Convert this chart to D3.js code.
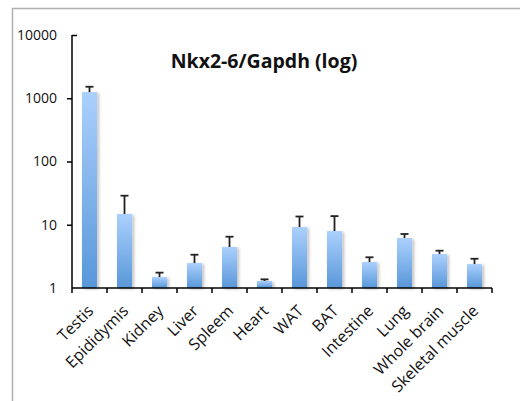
<!DOCTYPE html>
<html>
<head>
<meta charset="utf-8">
<script src="https://cdn.jsdelivr.net/npm/d3@7"></script>
<style>
  body { margin: 0; background: #fff; }
  text { font-family: "Open Sans", sans-serif; fill: #111; }
</style>
</head>
<body>
<div id="chart"></div>
<script>
// data
const tissues = ["Testis", "Epididymis", "Kidney", "Liver", "Spleem", "Heart",
  "WAT", "BAT", "Intestine", "Lung", "Whole brain", "Skeletal muscle"];
const ratio = [1250, 14.8, 1.49, 2.48, 4.45, 1.29, 9.2, 7.95, 2.58, 6.17, 3.45, 2.39];
const errUp = [1520, 28.8, 1.75, 3.36, 6.47, 1.37, 13.5, 13.7, 3.06, 7.14, 3.89, 2.9];
const yTicks = [1, 10, 100, 1000, 10000];

const svgWidth = 520;
const svgHeight = 401;

const svg = d3.select("#chart")
  .append("svg")
  .attr("width", svgWidth)
  .attr("height", svgHeight);

// gradient + soft shadow for the bars
const defs = svg.append("defs");
const grad = defs.append("linearGradient")
  .attr("id", "barFill")
  .attr("x1", 0).attr("y1", 0).attr("x2", 0).attr("y2", 1);
grad.append("stop").attr("offset", "0%").attr("stop-color", "#abd0fd");
grad.append("stop").attr("offset", "100%").attr("stop-color", "#5897d9");

const shadow = defs.append("filter")
  .attr("id", "shadow")
  .attr("x", "-30%").attr("y", "-10%")
  .attr("width", "170%").attr("height", "120%");
shadow.append("feDropShadow")
  .attr("dx", 2).attr("dy", 1)
  .attr("stdDeviation", 1.5)
  .attr("flood-color", "#000")
  .attr("flood-opacity", 0.25);

// outer frame (cut off at right and bottom)
svg.append("rect")
  .attr("x", 12.5).attr("y", 8.5)
  .attr("width", 700).attr("height", 700)
  .attr("fill", "none")
  .attr("stroke", "#b0b0b0")
  .attr("stroke-width", 1.5);

const x = d3.scaleBand()
  .domain(tissues)
  .range([72, 492])
  .padding(0);

const y = d3.scaleLog()
  .domain([1, 10000])
  .range([288, 35]);

const barW = x.bandwidth() * 0.43;

// bars
svg.append("g")
  .selectAll("rect")
  .data(tissues)
  .join("rect")
  .attr("x", d => x(d) + (x.bandwidth() - barW) / 2)
  .attr("y", (d, i) => y(ratio[i]))
  .attr("width", barW)
  .attr("height", (d, i) => y(1) - y(ratio[i]))
  .attr("fill", "url(#barFill)")
  .attr("filter", "url(#shadow)");

// upper error bars
const errG = svg.append("g")
  .attr("stroke", "#222")
  .attr("stroke-width", 1.8);

errG.selectAll("line.stem")
  .data(tissues)
  .join("line")
  .attr("class", "stem")
  .attr("x1", d => x(d) + x.bandwidth() / 2)
  .attr("x2", d => x(d) + x.bandwidth() / 2)
  .attr("y1", (d, i) => y(ratio[i]))
  .attr("y2", (d, i) => y(errUp[i]));

errG.selectAll("line.cap")
  .data(tissues)
  .join("line")
  .attr("class", "cap")
  .attr("x1", d => x(d) + x.bandwidth() / 2 - 4)
  .attr("x2", d => x(d) + x.bandwidth() / 2 + 4)
  .attr("y1", (d, i) => y(errUp[i]))
  .attr("y2", (d, i) => y(errUp[i]));

// y axis
const yAxis = svg.append("g")
  .attr("transform", "translate(72,0)")
  .call(d3.axisLeft(y)
    .tickValues(yTicks)
    .tickFormat(d3.format("d"))
    .tickSize(5)
    .tickPadding(10));

yAxis.select(".domain").attr("stroke", "#000").attr("stroke-width", 1.5)
  .attr("d", "M0,288V35");
yAxis.selectAll(".tick line").attr("stroke", "#000").attr("stroke-width", 1.5);
yAxis.selectAll(".tick text").style("font-size", "14px");
// top tick points inward, bottom one is hidden by the x axis
yAxis.selectAll(".tick").filter(d => d === 10000).select("line").attr("x2", 5);
yAxis.selectAll(".tick").filter(d => d === 1).select("line").remove();

// x axis: ticks on band edges
const xAxis = svg.append("g");
xAxis.append("line")
  .attr("x1", x.range()[0]).attr("x2", x.range()[1])
  .attr("y1", y(1)).attr("y2", y(1))
  .attr("stroke", "#000").attr("stroke-width", 1.5);

const edges = tissues.map(d => x(d)).concat([x.range()[1]]);
xAxis.selectAll("line.tick")
  .data(edges)
  .join("line")
  .attr("class", "tick")
  .attr("x1", d => d).attr("x2", d => d)
  .attr("y1", y(1)).attr("y2", y(1) + 5)
  .attr("stroke", "#000").attr("stroke-width", 1.5);

xAxis.selectAll("text")
  .data(tissues)
  .join("text")
  .attr("transform", d => `translate(${x(d) + x.bandwidth() / 2 + 1}, ${y(1) + 20}) rotate(-45)`)
  .attr("text-anchor", "end")
  .attr("dy", "0.35em")
  .style("font-size", "16px")
  .text(d => d);

// title
svg.append("text")
  .attr("x", 264)
  .attr("y", 68)
  .attr("text-anchor", "middle")
  .style("font-size", "19.5px")
  .style("font-weight", "bold")
  .text("Nkx2-6/Gapdh (log)");
</script>
</body>
</html>
